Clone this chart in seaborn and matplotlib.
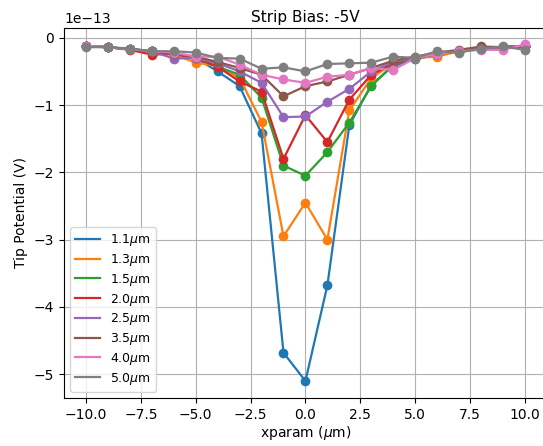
import numpy as np
import pandas as pd
import matplotlib
matplotlib.use("Agg")
import matplotlib.pyplot as plt
from matplotlib.lines import Line2D
import seaborn as sns

xparam = list(range(-10, 11))
widths = ["1.1", "1.3", "1.5", "2.0", "2.5", "3.5", "4.0", "5.0"]

# tip potential in units of 1e-13 V
w11 = [-0.13, -0.14, -0.17, -0.20, -0.24, -0.30, -0.50, -0.72, -1.42, -4.68, -5.10,
       -3.68, -1.30, -0.70, -0.42, -0.32, -0.25, -0.20, -0.16, -0.14, -0.12]
w13 = [-0.12, -0.14, -0.17, -0.20, -0.25, -0.37, -0.42, -0.60, -1.25, -2.95, -2.45,
       -3.00, -1.08, -0.60, -0.38, -0.30, -0.28, -0.20, -0.14, -0.14, -0.12]
w15 = [-0.12, -0.14, -0.17, -0.20, -0.24, -0.30, -0.43, -0.55, -0.89, -1.90, -2.05,
       -1.70, -1.26, -0.72, -0.40, -0.30, -0.24, -0.20, -0.16, -0.14, -0.12]
w20 = [-0.12, -0.14, -0.18, -0.25, -0.24, -0.30, -0.43, -0.65, -0.80, -1.80, -1.15,
       -1.55, -0.92, -0.55, -0.38, -0.30, -0.24, -0.20, -0.16, -0.14, -0.12]
w25 = [-0.12, -0.14, -0.17, -0.20, -0.31, -0.30, -0.38, -0.50, -0.67, -1.18, -1.17,
       -0.95, -0.76, -0.50, -0.36, -0.30, -0.24, -0.20, -0.16, -0.14, -0.12]
w35 = [-0.13, -0.14, -0.17, -0.20, -0.24, -0.28, -0.36, -0.45, -0.55, -0.87, -0.72,
       -0.65, -0.55, -0.45, -0.34, -0.28, -0.22, -0.18, -0.13, -0.14, -0.13]
w40 = [-0.12, -0.14, -0.17, -0.20, -0.22, -0.28, -0.28, -0.40, -0.55, -0.62, -0.67,
       -0.58, -0.55, -0.45, -0.48, -0.30, -0.24, -0.20, -0.18, -0.18, -0.10]
w50 = [-0.14, -0.14, -0.16, -0.20, -0.20, -0.22, -0.30, -0.31, -0.46, -0.44, -0.50,
       -0.39, -0.38, -0.37, -0.28, -0.30, -0.20, -0.22, -0.16, -0.13, -0.18]

series = [w11, w13, w15, w20, w25, w35, w40, w50]

rows = []
for w, vals in zip(widths, series):
    for x, v in zip(xparam, vals):
        rows.append({"x": x, "V": v * 1e-13, "width": w + r"$\mu$m"})
df = pd.DataFrame(rows)

palette = sns.color_palette("tab10", len(widths))

fig = plt.figure(figsize=(5.43, 4.46), dpi=100)
ax = fig.add_axes([0.118, 0.108, 0.889, 0.83])
sns.lineplot(data=df, x="x", y="V", hue="width", palette=palette,
             marker="o", markersize=7, markeredgewidth=0, linewidth=1.6,
             legend=False, ax=ax)
ax.grid(True, color="#b0b0b0", linewidth=0.8)
ax.set_title("Strip Bias: -5V", fontsize=11, pad=4)
ax.set_xlabel(r"xparam ($\mu$m)", labelpad=2)
ax.set_ylabel("Tip Potential (V)")
ax.set_xticks(np.arange(-10, 10.1, 2.5))

handles = [Line2D([], [], color=c, linewidth=1.6) for c in palette]
labels = [w + r"$\mu$m" for w in widths]
ax.legend(handles, labels, loc="lower left", fontsize=9, labelspacing=0.3)
fig.savefig("out.png", dpi=100)
